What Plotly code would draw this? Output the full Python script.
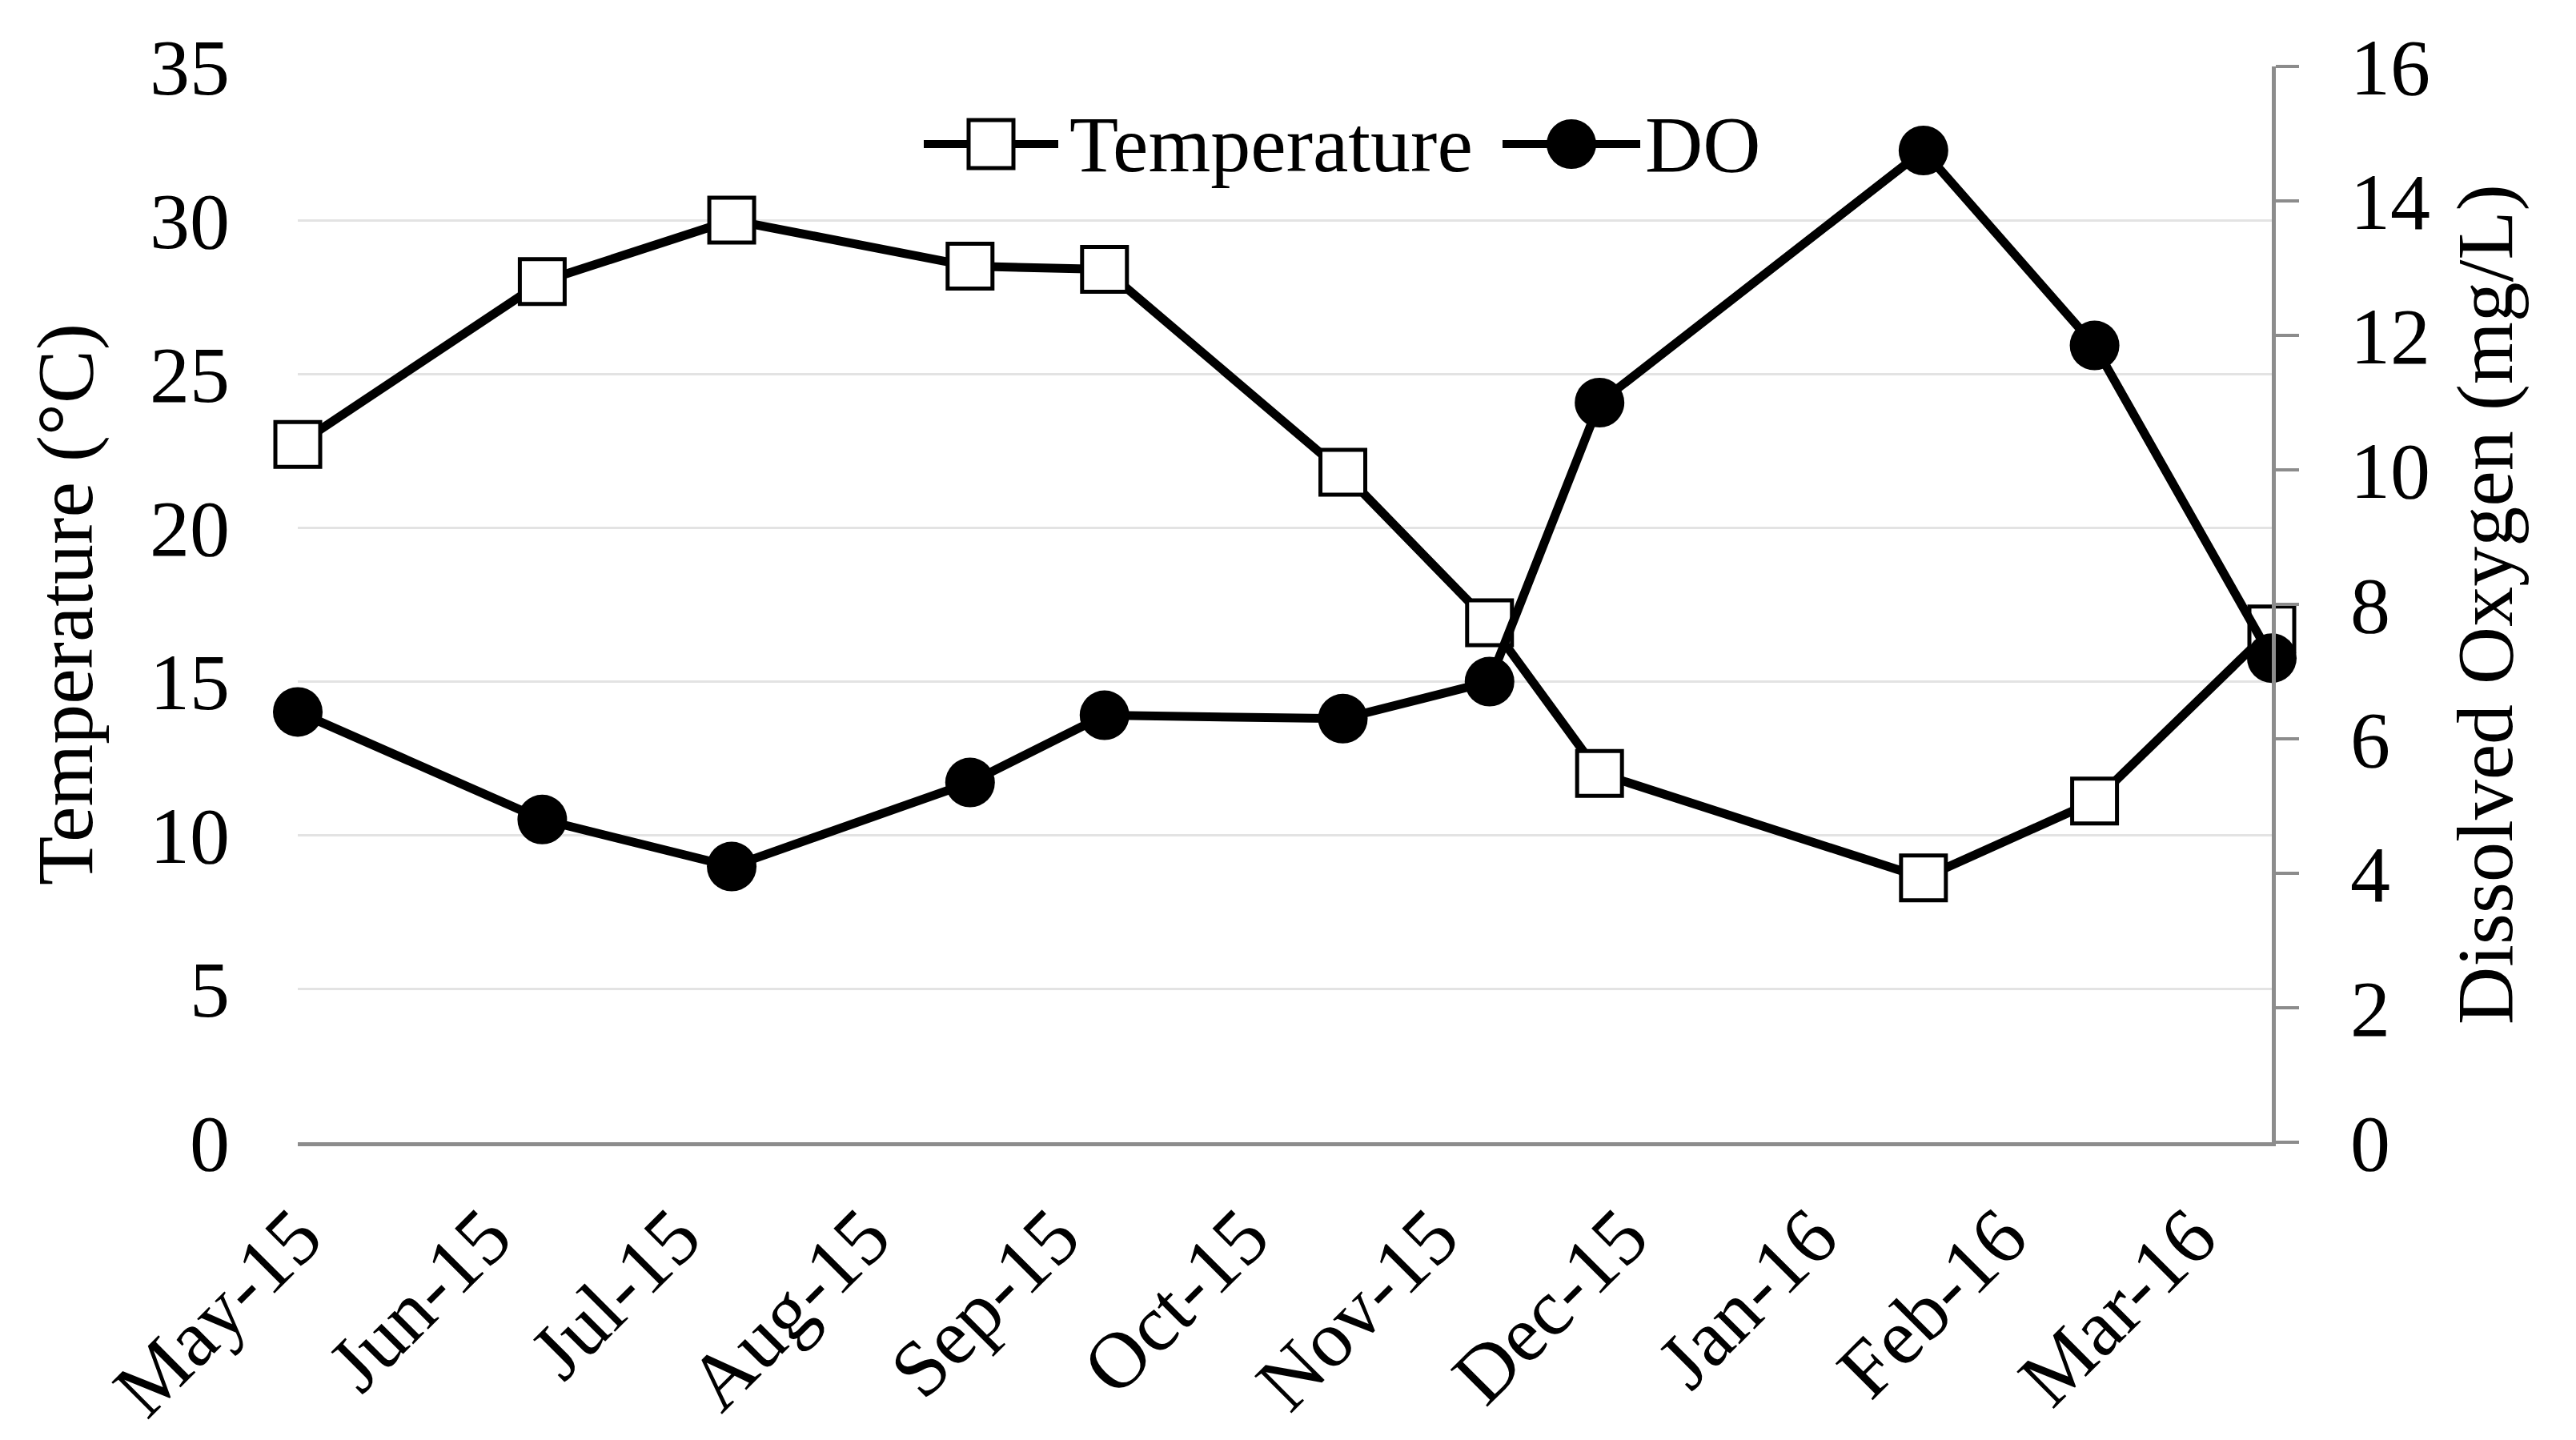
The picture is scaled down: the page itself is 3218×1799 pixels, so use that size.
import plotly.graph_objects as go

# ---- data ----
dates = ["2015-05-01", "2015-06-10", "2015-07-11", "2015-08-19", "2015-09-10",
         "2015-10-19", "2015-11-12", "2015-11-30", "2016-01-22", "2016-02-19",
         "2016-03-19"]
temperature = [22.7, 28.0, 30.0, 28.5, 28.4, 21.8, 16.9, 12.0, 8.6, 11.1, 16.7]
dissolved_oxygen = [6.4, 4.8, 4.1, 5.35, 6.35, 6.3, 6.85, 11.0, 14.75, 11.85, 7.2]
series_names = ["Temperature", "DO"]
y_title = "Temperature (°C)"
y2_title = "Dissolved Oxygen (mg/L)"

FONT = "Liberation Serif, Times New Roman, serif"
FS = 100
AXIS_GRAY = "#8c8c8c"
GRID = "#e3e3e3"
DAY_MS = 86400000

W, H = 3218, 1799
OFF = 8  # page body margin offset
# desired on-screen plot-area edges
SX0, SX1, SY0, SY1 = 372, 2838, 83, 1427
ML = SX0 - OFF
MT = SY0 - OFF
MR = W - (SX1 - OFF)
MB = H - (SY1 - OFF)

fig = go.Figure()
fig.add_trace(go.Scatter(
    x=dates, y=temperature, name=series_names[0], mode="lines+markers",
    line=dict(color="black", width=11),
    marker=dict(symbol="square", size=56, color="white",
                line=dict(color="black", width=5)),
    cliponaxis=False, showlegend=False))
fig.add_trace(go.Scatter(
    x=dates, y=dissolved_oxygen, name=series_names[1], mode="lines+markers",
    yaxis="y2",
    line=dict(color="black", width=11),
    marker=dict(symbol="circle", size=62, color="black",
                line=dict(color="black", width=0)),
    cliponaxis=False, showlegend=False))

# ---- legend drawn as shapes + text (large symbols like the original) ----
plot_w = SX1 - SX0
plot_h = SY1 - SY0
def px2x(px):
    return (px - SX0) / plot_w
def py2y(py):
    return (SY1 - py) / plot_h

leg_y = py2y(180)
shapes = []
annotations = []
# Temperature item
shapes.append(dict(type="line", xref="paper", yref="paper",
                   x0=px2x(1154), x1=px2x(1322), y0=leg_y, y1=leg_y,
                   line=dict(color="black", width=10)))
shapes.append(dict(type="rect", xref="paper", yref="paper",
                   xsizemode="pixel", ysizemode="pixel",
                   xanchor=px2x(1238), yanchor=leg_y,
                   x0=-28, x1=28, y0=-30, y1=30,
                   fillcolor="white", line=dict(color="black", width=5)))
annotations.append(dict(text=series_names[0], xref="paper", yref="paper",
                        x=px2x(1334), y=leg_y, xanchor="left", yanchor="middle",
                        showarrow=False, font=dict(family=FONT, size=FS, color="black")))
# DO item
shapes.append(dict(type="line", xref="paper", yref="paper",
                   x0=px2x(1877), x1=px2x(2049), y0=leg_y, y1=leg_y,
                   line=dict(color="black", width=10)))
shapes.append(dict(type="circle", xref="paper", yref="paper",
                   xsizemode="pixel", ysizemode="pixel",
                   xanchor=px2x(1963), yanchor=leg_y,
                   x0=-31, x1=31, y0=-31, y1=31,
                   fillcolor="black", line=dict(color="black", width=0)))
annotations.append(dict(text=series_names[1], xref="paper", yref="paper",
                        x=px2x(2053), y=leg_y, xanchor="left", yanchor="middle",
                        showarrow=False, font=dict(family=FONT, size=FS, color="black")))

fig.update_layout(
    template="none",
    width=W, height=H,
    margin=dict(l=ML, r=MR, t=MT, b=MB, pad=0),
    paper_bgcolor="white", plot_bgcolor="white",
    font=dict(family=FONT, size=FS, color="black"),
    showlegend=False,
    shapes=shapes, annotations=annotations,
    xaxis=dict(
        type="date", range=[dates[0], dates[-1]], automargin=False,
        tick0=dates[0], dtick=31 * DAY_MS, tickformat="%b-%y",
        tickangle=-45, showgrid=False, zeroline=False,
        showline=True, linecolor=AXIS_GRAY, linewidth=5,
        ticks="", ticklabelstandoff=14,
        tickfont=dict(family=FONT, size=FS, color="black")),
    yaxis=dict(
        range=[0, 35], dtick=5, tick0=0, automargin=False,
        showgrid=True, gridcolor=GRID, gridwidth=3,
        zeroline=False, showline=False, ticks="",
        ticklabelstandoff=84,
        tickfont=dict(family=FONT, size=FS, color="black"),
        title=dict(text=y_title, font=dict(family=FONT, size=FS, color="black"),
                   standoff=38)),
    yaxis2=dict(
        range=[0, 16], dtick=2, tick0=0, overlaying="y", side="right",
        automargin=False,
        showgrid=False, zeroline=False,
        showline=True, linecolor=AXIS_GRAY, linewidth=5,
        ticks="outside", ticklen=29, tickwidth=4, tickcolor=AXIS_GRAY,
        ticklabelstandoff=44,
        tickfont=dict(family=FONT, size=FS, color="black"),
        title=dict(text=y2_title, font=dict(family=FONT, size=FS, color="black"),
                   standoff=34)),
)

fig.write_html("out.html")
